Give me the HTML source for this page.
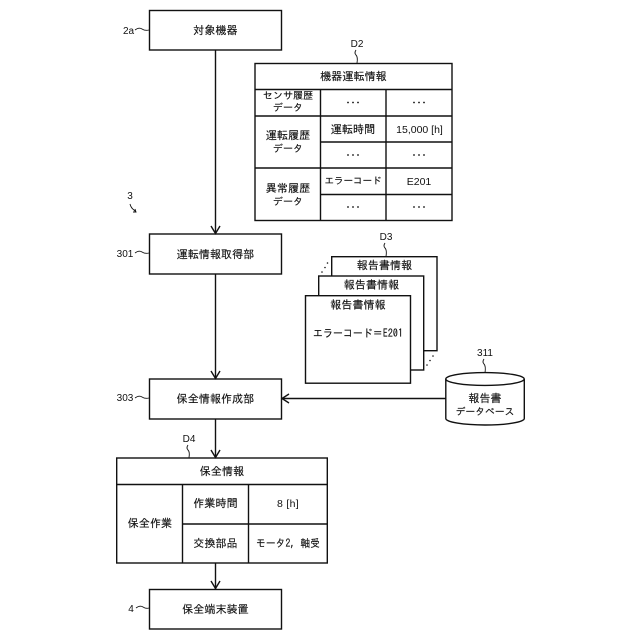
<!DOCTYPE html>
<html><head><meta charset="utf-8"><style>
html,body{margin:0;padding:0;background:#fff}
svg{display:block}
text{font-family:"Liberation Sans","IPAGothic","Noto Sans CJK JP",sans-serif;font-size:10.5px;fill:#111;text-anchor:middle;letter-spacing:.2px}
.j{font-family:"IPAGothic","Noto Sans CJK JP",sans-serif;font-size:11px;letter-spacing:.1px;stroke:#111;stroke-width:.15}
.l{font-size:10px;letter-spacing:0}
rect,path,line,ellipse{stroke:#111;stroke-width:1.4;fill:none}
.w{fill:#fff}
</style></head><body>
<svg width="640" height="640" viewBox="0 0 640 640" xmlns="http://www.w3.org/2000/svg">
<!-- connectors -->
<line x1="215.5" y1="50" x2="215.5" y2="233"/>
<path d="M211 226 L215.5 233.5 L220 226"/>
<line x1="215.5" y1="274" x2="215.5" y2="378"/>
<path d="M211 371 L215.5 378.5 L220 371"/>
<line x1="215.5" y1="419" x2="215.5" y2="457"/>
<path d="M211 450 L215.5 457.5 L220 450"/>
<line x1="215.5" y1="563" x2="215.5" y2="589"/>
<path d="M211 581 L215.5 588.5 L220 581"/>
<line x1="282" y1="398.5" x2="446" y2="398.5"/>
<path d="M289 394 L282 398.5 L289 403"/>

<!-- boxes -->
<rect x="149.5" y="10.5" width="132" height="39.5"/>
<text class="j" x="215.5" y="34">対象機器</text>
<rect x="149.5" y="234" width="132" height="40"/>
<text class="j" x="215.5" y="258">運転情報取得部</text>
<rect x="149.5" y="379" width="132" height="40"/>
<text class="j" x="215.5" y="402.5">保全情報作成部</text>
<rect x="149.5" y="589.5" width="132" height="39.5"/>
<text class="j" x="215.5" y="613">保全端末装置</text>

<!-- ref labels -->
<text class="l" x="128.5" y="34">2a</text>
<path d="M135 30 q4 -3 7 -1 t7 1" style="stroke-width:.9"/>
<text class="l" x="125" y="257">301</text>
<path d="M135 253 q4 -3 7 -1 t7 1" style="stroke-width:.9"/>
<text class="l" x="125" y="401">303</text>
<path d="M135 398 q4 -3 7 -1 t7 1" style="stroke-width:.9"/>
<text class="l" x="131" y="612">4</text>
<path d="M136 608 q4 -3 7 -1 t6 1" style="stroke-width:.9"/>
<text class="l" x="130" y="199">3</text>
<path d="M130 204 q1 4 4 6 l2 2 M133 212 l3 0 l-1 -3" style="stroke-width:.9"/>

<!-- D2 table -->
<text class="l" x="357" y="47">D2</text>
<path d="M356 50 q-2 3 0 5 t1 8" style="stroke-width:.9"/>
<rect x="255" y="63.5" width="197" height="157"/>
<line x1="255" y1="89.5" x2="452" y2="89.5"/>
<line x1="255" y1="116" x2="452" y2="116"/>
<line x1="320.5" y1="142" x2="452" y2="142"/>
<line x1="255" y1="168" x2="452" y2="168"/>
<line x1="320.5" y1="194.5" x2="452" y2="194.5"/>
<line x1="320.5" y1="89.5" x2="320.5" y2="220.5"/>
<line x1="386" y1="89.5" x2="386" y2="220.5"/>
<text class="j" x="353.5" y="80">機器運転情報</text>
<text class="j" x="288" y="99" style="font-size:10px">センサ履歴</text>
<text class="j" x="288" y="111" style="font-size:10px">データ</text>
<text class="j" x="288" y="139">運転履歴</text>
<text class="j" x="288" y="152" style="font-size:10px">データ</text>
<text class="j" x="288" y="192">異常履歴</text>
<text class="j" x="288" y="205" style="font-size:10px">データ</text>
<text class="j" x="353" y="133">運転時間</text>
<text x="419.5" y="133" style="letter-spacing:0">15,000 [h]</text>
<text class="j" x="353" y="184" style="font-size:9.5px;letter-spacing:0">エラーコード</text>
<text x="419" y="185" style="letter-spacing:0">E201</text>
<g style="fill:#111">
<circle cx="348" cy="102.5" r=".9"/><circle cx="353" cy="102.5" r=".9"/><circle cx="358" cy="102.5" r=".9"/>
<circle cx="414" cy="102.5" r=".9"/><circle cx="419" cy="102.5" r=".9"/><circle cx="424" cy="102.5" r=".9"/>
<circle cx="348" cy="155" r=".9"/><circle cx="353" cy="155" r=".9"/><circle cx="358" cy="155" r=".9"/>
<circle cx="414" cy="155" r=".9"/><circle cx="419" cy="155" r=".9"/><circle cx="424" cy="155" r=".9"/>
<circle cx="348" cy="207" r=".9"/><circle cx="353" cy="207" r=".9"/><circle cx="358" cy="207" r=".9"/>
<circle cx="414" cy="207" r=".9"/><circle cx="419" cy="207" r=".9"/><circle cx="424" cy="207" r=".9"/>
<!-- D3 ellipses -->
<circle cx="322" cy="272" r=".8"/><circle cx="325" cy="267.5" r=".8"/><circle cx="327.5" cy="263" r=".8"/>
<circle cx="427" cy="365" r=".8"/><circle cx="430" cy="360.5" r=".8"/><circle cx="433" cy="356" r=".8"/>
</g>

<!-- D3 stack -->
<text class="l" x="386" y="240">D3</text>
<path d="M385 243 q-2 3 0 5 t1 8.5" style="stroke-width:.9"/>
<rect class="w" x="331.7" y="256.7" width="105.3" height="94"/>
<text class="j" x="384.5" y="269">報告書情報</text>
<rect class="w" x="318.7" y="276" width="105" height="94"/>
<text class="j" x="371.5" y="288.5">報告書情報</text>
<rect class="w" x="305.5" y="295.7" width="105" height="87.5"/>
<text class="j" x="358" y="308.5">報告書情報</text>
<text class="j" x="358" y="337" textLength="90" lengthAdjust="spacingAndGlyphs">エラーコード＝E201</text>

<!-- DB -->
<text class="l" x="485" y="356">311</text>
<path d="M484 359 q-2 3 0 5 t1 9" style="stroke-width:.9"/>
<path class="w" d="M445.8 379 V418.5 A39.2 6.5 0 0 0 524.3 418.5 V379" />
<ellipse class="w" cx="485" cy="379" rx="39.2" ry="6.4"/>
<text class="j" x="485" y="402">報告書</text>
<text class="j" x="485" y="415" style="font-size:9.8px;letter-spacing:0">データベース</text>

<!-- D4 table -->
<text class="l" x="189" y="442">D4</text>
<path d="M188 445 q-2 3 0 5 t1 7.5" style="stroke-width:.9"/>
<rect x="116.7" y="458" width="210.6" height="105"/>
<line x1="116.7" y1="484.5" x2="327.3" y2="484.5"/>
<line x1="182.5" y1="524" x2="327.3" y2="524"/>
<line x1="182.5" y1="484.5" x2="182.5" y2="563"/>
<line x1="248.5" y1="484.5" x2="248.5" y2="563"/>
<text class="j" x="222" y="475">保全情報</text>
<text class="j" x="150" y="527">保全作業</text>
<text class="j" x="215.5" y="507">作業時間</text>
<text class="j" x="215.5" y="547">交換部品</text>
<text x="288" y="507" style="letter-spacing:.3px">8 [h]</text>
<text class="j" x="288" y="547" textLength="64" lengthAdjust="spacingAndGlyphs">モータ2, 軸受</text>
</svg>
</body></html>
